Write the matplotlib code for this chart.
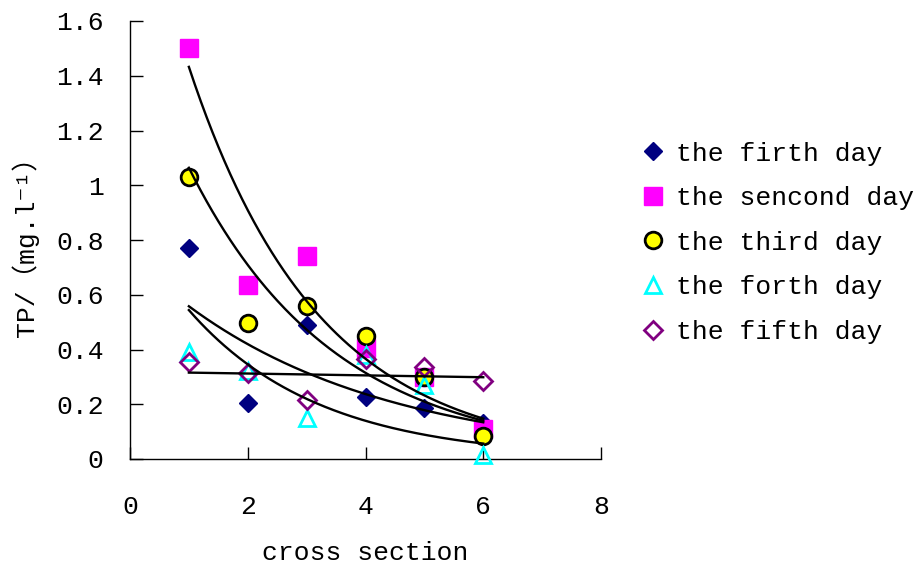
import numpy as np
import matplotlib
matplotlib.use("Agg")
import matplotlib.pyplot as plt

plt.rcParams['font.family'] = ['Liberation Mono', 'Noto Sans CJK SC', 'DejaVu Sans']

x = [1, 2, 3, 4, 5, 6]
labels = ["the firth day", "the sencond day", "the third day", "the forth day", "the fifth day"]
day1 = [0.77, 0.205, 0.49, 0.225, 0.185, 0.13]
day2 = [1.50, 0.635, 0.74, 0.405, 0.30, 0.11]
day3 = [1.03, 0.497, 0.56, 0.45, 0.30, 0.085]
day4 = [0.39, 0.32, 0.15, 0.38, 0.27, 0.015]
day5 = [0.355, 0.315, 0.215, 0.365, 0.335, 0.285]
xticks = [0, 2, 4, 6, 8]
yticks = [0, 0.2, 0.4, 0.6, 0.8, 1.0, 1.2, 1.4, 1.6]
ytick_labels = ["0", "0.2", "0.4", "0.6", "0.8", "1", "1.2", "1.4", "1.6"]

styles = [
    dict(marker='D', ms=9, mfc='#000080', mec='#000080', mew=1),
    dict(marker='s', ms=12.5, mfc='#FF00FF', mec='#FF00FF', mew=1),
    dict(marker='o', ms=12, mfc='#FFFF00', mec='black', mew=2),
    dict(marker='^', ms=12, mfc='none', mec='#00FFFF', mew=2),
    dict(marker='D', ms=9, mfc='none', mec='#800080', mew=2),
]

fig = plt.figure(figsize=(9.17, 5.67), dpi=100)
ax = fig.add_axes([130/917, 1-459/567, (601-130)/917, (459-21)/567])

series = [day1, day2, day3, day4, day5]
handles = []
for ys, st, lab in zip(series, styles, labels):
    h, = ax.plot(x, ys, linestyle='none', label=lab, zorder=3, clip_on=False, **st)
    handles.append(h)

xs = np.linspace(min(x), max(x), 200)
for ys in series:
    b, loga = np.polyfit(x, np.log(ys), 1)
    ax.plot(xs, np.exp(loga + b * xs), color='black', lw=1.7, zorder=4)

ax.set_xlim(0, 8)
ax.set_ylim(0, 1.6)
ax.set_xticks(xticks)
ax.set_yticks(yticks)
ax.set_yticklabels(ytick_labels)
ax.spines['top'].set_visible(False)
ax.spines['right'].set_visible(False)
for s in ['left', 'bottom']:
    ax.spines[s].set_linewidth(1.0)
ax.tick_params(direction='in', length=9, width=1, labelsize=19)
ax.tick_params(axis='y', pad=19)
ax.tick_params(axis='x', pad=26)
ax.set_xlabel('cross section', fontsize=19, labelpad=16)
ax.set_ylabel('TP/（mg.l⁻¹）', fontsize=19, labelpad=12)

fig.legend(handles=handles, loc='upper left', bbox_to_anchor=(629/917, 1-131/567),
           frameon=False, fontsize=19, handlelength=1.0, handletextpad=0.4,
           labelspacing=0.78, borderaxespad=0)

fig.savefig('out.png', dpi=100)
